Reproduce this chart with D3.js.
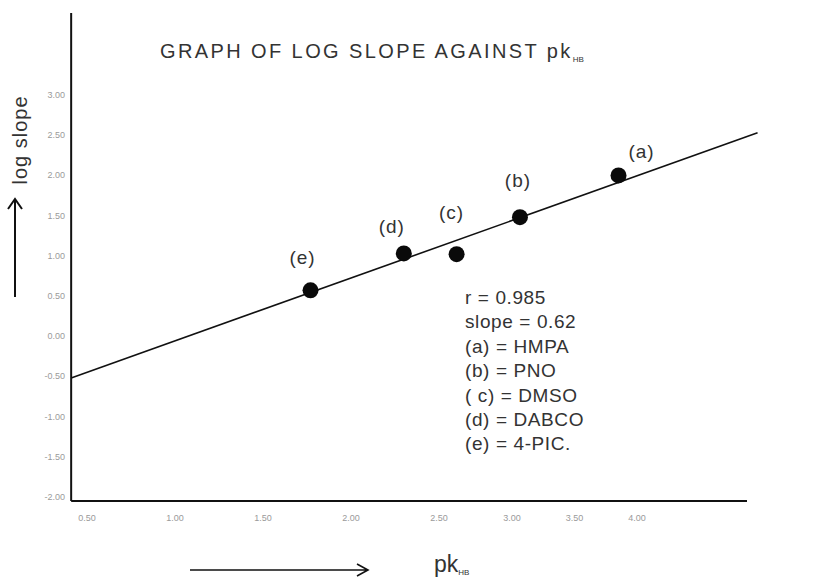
<!DOCTYPE html>
<html>
<head>
<meta charset="utf-8">
<script src="https://cdn.jsdelivr.net/npm/d3@7"></script>
<style>
  body { margin: 0; background: #fff; }
  svg { display: block; font-family: "Liberation Sans", Arial, sans-serif; }
  .tick-label { fill: #9a9a9a; font-size: 9px; }
  .ink { fill: #333; }
</style>
</head>
<body>
<script>
// log slope vs pk(HB) for five bases

// ---- data ----
var bases = ["(a)", "(b)", "(c)", "(d)", "(e)"];
var pkValues = [3.52, 2.96, 2.60, 2.30, 1.77];
var logSlopes = [2.00, 1.48, 1.02, 1.03, 0.57];

var fitX = [0.41, 4.31];
var fitY = [-0.52, 2.53];

var xTicks = [0.5, 1.0, 1.5, 2.0, 2.5, 3.0, 3.5, 4.0];
var xTickLabels = ["0.50", "1.00", "1.50", "2.00", "2.50", "3.00", "3.50", "4.00"];
var yTicks = [3.0, 2.5, 2.0, 1.5, 1.0, 0.5, 0.0, -0.5, -1.0, -1.5, -2.0];
var yTickLabels = ["3.00", "2.50", "2.00", "1.50", "1.00", "0.50", "0.00", "-0.50", "-1.00", "-1.50", "-2.00"];

var legendLines = ["r = 0.985", "slope = 0.62", "(a) = HMPA", "(b) = PNO", "( c) = DMSO", "(d) = DABCO", "(e) = 4-PIC."];

window.onload = function(){

    var w = 834,
        h = 581;

    var svg = d3.select("body")
        .append("svg")
        .attr("width", w)
        .attr("height", h);

    // scales
    var x = d3.scaleLinear()
        .domain([0.5, 4.0])
        .range([87, 703]);

    // the typed tick labels on the original bunch up on the right
    var xLabel = d3.scaleLinear()
        .domain([0.5, 2.5, 3.0, 4.0])
        .range([x(0.5), x(2.5), 512, 637]);

    var y = d3.scaleLinear()
        .domain([-2, 3])
        .range([497, 95]);

    // axis lines (no tick marks in the original)
    var x0 = x(0.41);
    svg.append("line")
        .attr("x1", x0).attr("y1", y(4.02))
        .attr("x2", x0).attr("y2", y(-2.05))
        .style("stroke", "#111").style("stroke-width", 2);

    svg.append("line")
        .attr("x1", x0).attr("y1", y(-2.05))
        .attr("x2", x(4.25)).attr("y2", y(-2.05))
        .style("stroke", "#111").style("stroke-width", 2);

    // y tick labels
    svg.selectAll(".ylab")
        .data(yTicks)
        .enter()
        .append("text")
        .attr("class", "tick-label ylab")
        .attr("text-anchor", "end")
        .attr("x", 65)
        .attr("y", function(d){ return y(d) + 3; })
        .text(function(d, i){ return yTickLabels[i]; });

    // x tick labels
    svg.selectAll(".xlab")
        .data(xTicks)
        .enter()
        .append("text")
        .attr("class", "tick-label xlab")
        .attr("text-anchor", "middle")
        .attr("x", function(d){ return xLabel(d); })
        .attr("y", 521)
        .text(function(d, i){ return xTickLabels[i]; });

    // fitted line
    svg.append("line")
        .attr("x1", x(fitX[0])).attr("y1", y(fitY[0]))
        .attr("x2", x(fitX[1])).attr("y2", y(fitY[1]))
        .style("stroke", "#111").style("stroke-width", 1.6);

    // points
    svg.selectAll(".pt")
        .data(pkValues)
        .enter()
        .append("circle")
        .attr("class", "pt")
        .attr("cx", function(d){ return x(d); })
        .attr("cy", function(d, i){ return y(logSlopes[i]); })
        .attr("r", 8)
        .style("fill", "#0a0a0a");

    // point labels
    var labelDx = [23, -2, -5, -12, -8];
    var labelDy = [-17, -30, -35, -20, -26];
    svg.selectAll(".plab")
        .data(pkValues)
        .enter()
        .append("text")
        .attr("class", "ink plab")
        .attr("text-anchor", "middle")
        .attr("x", function(d, i){ return x(d) + labelDx[i]; })
        .attr("y", function(d, i){ return y(logSlopes[i]) + labelDy[i]; })
        .style("font-size", "19px")
        .style("letter-spacing", "1px")
        .text(function(d, i){ return bases[i]; });

    // title
    var title = svg.append("text")
        .attr("class", "ink")
        .attr("x", 160)
        .attr("y", 58)
        .style("font-size", "20px")
        .style("letter-spacing", "2.4px")
        .text("GRAPH OF LOG SLOPE AGAINST ");
    title.append("tspan").text("pk");
    title.append("tspan")
        .attr("dy", 4)
        .style("font-size", "8px")
        .style("letter-spacing", "0px")
        .text("HB");

    // legend block
    svg.selectAll(".leg")
        .data(legendLines)
        .enter()
        .append("text")
        .attr("class", "ink leg")
        .attr("x", 465)
        .attr("y", function(d, i){ return 304 + i * 24.4; })
        .style("font-size", "19px")
        .style("letter-spacing", "0.6px")
        .text(function(d){ return d; });

    // y axis title with arrow
    svg.append("text")
        .attr("class", "ink")
        .attr("transform", "translate(27,140) rotate(-90)")
        .attr("text-anchor", "middle")
        .style("font-size", "20px")
        .style("letter-spacing", "1px")
        .text("log slope");

    svg.append("path")
        .attr("d", "M15,297 L15,200 M8,209 L15,199 L22,209")
        .style("fill", "none").style("stroke", "#111").style("stroke-width", 2);

    // x axis title with arrow
    var xt = svg.append("text")
        .attr("class", "ink")
        .attr("x", 434)
        .attr("y", 572)
        .style("font-size", "23px")
        .text("pk");
    xt.append("tspan")
        .attr("dy", 3)
        .style("font-size", "8px")
        .text("HB");

    svg.append("path")
        .attr("d", "M190,570 L367,570 M357,564 L368,570 L357,576")
        .style("fill", "none").style("stroke", "#111").style("stroke-width", 1.6);
};
</script>
</body>
</html>
